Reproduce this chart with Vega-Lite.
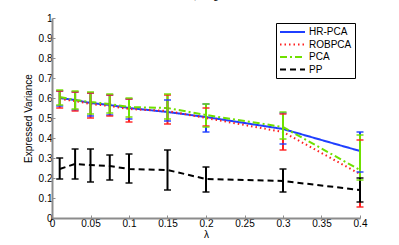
{
  "$schema": "https://vega.github.io/schema/vega-lite/v6.json",
  "width": 308,
  "height": 200,
  "autosize": "none",
  "padding": {"left": 52, "top": 18, "right": 39, "bottom": 27},
  "background": "white",
  "title": {"text": "σ=2, mag=10", "fontSize": 10, "fontWeight": "normal", "font": "Liberation Sans", "offset": 2, "baseline": "bottom", "color": "black"},
  "config": {
    "view": {"stroke": null},
    "font": "Liberation Sans",
    "axis": {"grid": false, "domain": true, "domainColor": "#8c8c8c", "domainWidth": 2, "tickColor": "#8c8c8c", "tickSize": -3, "labelFontSize": 10, "labelColor": "black", "titleFontSize": 10, "titleFontWeight": "normal", "titleColor": "black", "labelOverlap": false, "labelFlush": false, "labelPadding": 3, "labelSeparation": 0, "zindex": 1}
  },
  "resolve": {"axis": {"x": "independent", "y": "independent"}},
  "data": {"values": [
    {"lambda": 0.01, "method": "HR-PCA", "mean": 0.60, "lo": 0.56, "hi": 0.635},
    {"lambda": 0.03, "method": "HR-PCA", "mean": 0.59, "lo": 0.54, "hi": 0.63},
    {"lambda": 0.05, "method": "HR-PCA", "mean": 0.575, "lo": 0.51, "hi": 0.625},
    {"lambda": 0.075, "method": "HR-PCA", "mean": 0.565, "lo": 0.515, "hi": 0.615},
    {"lambda": 0.1, "method": "HR-PCA", "mean": 0.55, "lo": 0.495, "hi": 0.595},
    {"lambda": 0.15, "method": "HR-PCA", "mean": 0.53, "lo": 0.485, "hi": 0.59},
    {"lambda": 0.2, "method": "HR-PCA", "mean": 0.505, "lo": 0.43, "hi": 0.57},
    {"lambda": 0.3, "method": "HR-PCA", "mean": 0.445, "lo": 0.37, "hi": 0.525},
    {"lambda": 0.4, "method": "HR-PCA", "mean": 0.335, "lo": 0.23, "hi": 0.43},
    {"lambda": 0.01, "method": "ROBPCA", "mean": 0.595, "lo": 0.55, "hi": 0.635},
    {"lambda": 0.03, "method": "ROBPCA", "mean": 0.585, "lo": 0.535, "hi": 0.63},
    {"lambda": 0.05, "method": "ROBPCA", "mean": 0.57, "lo": 0.50, "hi": 0.625},
    {"lambda": 0.075, "method": "ROBPCA", "mean": 0.56, "lo": 0.51, "hi": 0.615},
    {"lambda": 0.1, "method": "ROBPCA", "mean": 0.545, "lo": 0.48, "hi": 0.595},
    {"lambda": 0.15, "method": "ROBPCA", "mean": 0.535, "lo": 0.47, "hi": 0.615},
    {"lambda": 0.2, "method": "ROBPCA", "mean": 0.50, "lo": 0.46, "hi": 0.55},
    {"lambda": 0.3, "method": "ROBPCA", "mean": 0.43, "lo": 0.34, "hi": 0.52},
    {"lambda": 0.4, "method": "ROBPCA", "mean": 0.22, "lo": 0.055, "hi": 0.39},
    {"lambda": 0.01, "method": "PCA", "mean": 0.605, "lo": 0.565, "hi": 0.64},
    {"lambda": 0.03, "method": "PCA", "mean": 0.59, "lo": 0.545, "hi": 0.635},
    {"lambda": 0.05, "method": "PCA", "mean": 0.58, "lo": 0.52, "hi": 0.63},
    {"lambda": 0.075, "method": "PCA", "mean": 0.57, "lo": 0.525, "hi": 0.62},
    {"lambda": 0.1, "method": "PCA", "mean": 0.555, "lo": 0.505, "hi": 0.60},
    {"lambda": 0.15, "method": "PCA", "mean": 0.55, "lo": 0.495, "hi": 0.62},
    {"lambda": 0.2, "method": "PCA", "mean": 0.515, "lo": 0.455, "hi": 0.57},
    {"lambda": 0.3, "method": "PCA", "mean": 0.455, "lo": 0.395, "hi": 0.53},
    {"lambda": 0.4, "method": "PCA", "mean": 0.24, "lo": 0.19, "hi": 0.415},
    {"lambda": 0.01, "method": "PP", "mean": 0.245, "lo": 0.195, "hi": 0.30},
    {"lambda": 0.03, "method": "PP", "mean": 0.27, "lo": 0.195, "hi": 0.345},
    {"lambda": 0.05, "method": "PP", "mean": 0.265, "lo": 0.18, "hi": 0.345},
    {"lambda": 0.075, "method": "PP", "mean": 0.26, "lo": 0.19, "hi": 0.315},
    {"lambda": 0.1, "method": "PP", "mean": 0.245, "lo": 0.175, "hi": 0.32},
    {"lambda": 0.15, "method": "PP", "mean": 0.24, "lo": 0.14, "hi": 0.34},
    {"lambda": 0.2, "method": "PP", "mean": 0.195, "lo": 0.13, "hi": 0.255},
    {"lambda": 0.3, "method": "PP", "mean": 0.185, "lo": 0.13, "hi": 0.245},
    {"lambda": 0.4, "method": "PP", "mean": 0.14, "lo": 0.08, "hi": 0.20}
  ]},
  "layer": [
    {
      "mark": {"type": "line", "strokeWidth": 2},
      "encoding": {
        "x": {"field": "lambda", "type": "quantitative", "scale": {"domain": [0, 0.4], "nice": false, "zero": false}, "axis": {"values": [0, 0.05, 0.1, 0.15, 0.2, 0.25, 0.3, 0.35, 0.4], "labelExpr": "format(datum.value, '~g')", "title": "λ", "titlePadding": 1}},
        "y": {"field": "mean", "type": "quantitative", "scale": {"domain": [0, 1], "nice": false}, "axis": {"values": [0, 0.1, 0.2, 0.3, 0.4, 0.5, 0.6, 0.7, 0.8, 0.9, 1], "labelExpr": "format(datum.value, '~g')", "title": "Expressed Variance", "titlePadding": 5}},
        "color": {"field": "method", "type": "nominal", "scale": {"domain": ["HR-PCA", "ROBPCA", "PCA", "PP"], "range": ["#1f3fff", "#ff2020", "#6fe000", "#000000"]}, "legend": {"title": null, "orient": "top-right", "offset": 5, "padding": 3, "strokeColor": "black", "fillColor": "white", "labelFontSize": 10, "labelColor": "black", "symbolType": "M-1,0H4", "symbolSize": 100, "symbolStrokeWidth": 2, "rowPadding": 1.5, "labelOffset": 18}},
        "strokeDash": {"field": "method", "type": "nominal", "scale": {"domain": ["HR-PCA", "ROBPCA", "PCA", "PP"], "range": [[1, 0], [1.5, 3], [7, 3, 2, 3], [6, 4]]}, "legend": null},
        "order": {"field": "lambda", "type": "quantitative"}
      }
    },
    {
      "mark": {"type": "rule", "strokeWidth": 2},
      "encoding": {
        "x": {"field": "lambda", "type": "quantitative", "axis": null},
        "y": {"field": "lo", "type": "quantitative", "axis": null},
        "y2": {"field": "hi"},
        "color": {"field": "method", "type": "nominal", "legend": null}
      }
    },
    {
      "mark": {"type": "tick", "orient": "horizontal", "size": 7, "thickness": 2},
      "encoding": {
        "x": {"field": "lambda", "type": "quantitative", "axis": null},
        "y": {"field": "lo", "type": "quantitative", "axis": null},
        "color": {"field": "method", "type": "nominal", "legend": null}
      }
    },
    {
      "mark": {"type": "tick", "orient": "horizontal", "size": 7, "thickness": 2},
      "encoding": {
        "x": {"field": "lambda", "type": "quantitative", "axis": null},
        "y": {"field": "hi", "type": "quantitative", "axis": null},
        "color": {"field": "method", "type": "nominal", "legend": null}
      }
    }
  ]
}
